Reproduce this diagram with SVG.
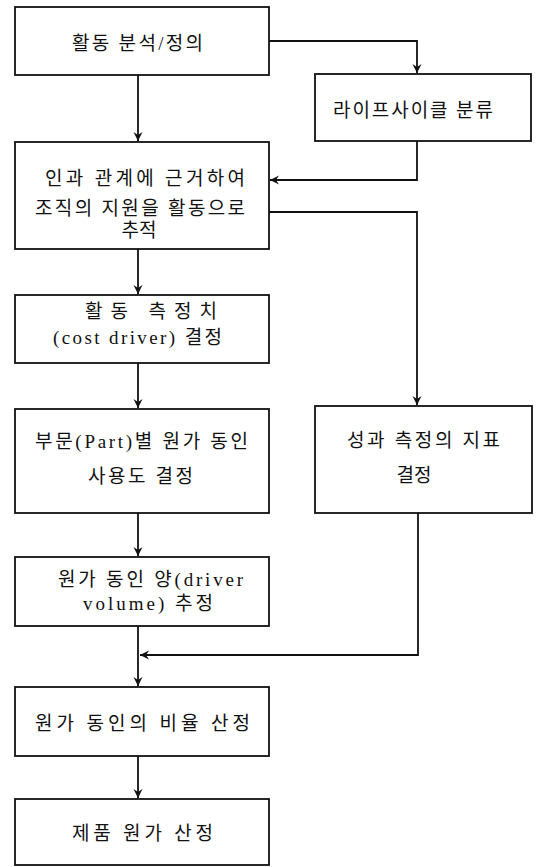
<svg xmlns="http://www.w3.org/2000/svg" width="539" height="867" viewBox="0 0 539 867">
<style>
.box{fill:#fff;stroke:#111;stroke-width:1.8}
.t{font-family:"Liberation Serif","Noto Sans CJK KR",serif;font-size:19px;fill:#111}
.m{text-anchor:middle}
.c{fill:none;stroke:#111;stroke-width:1.8;marker-end:url(#ah)}
</style>
<defs>
<marker id="ah" markerUnits="userSpaceOnUse" markerWidth="12" markerHeight="12" viewBox="-10 -6 12 12" refX="0" refY="0" orient="auto">
<path d="M-9,-4.5 L0,0 L-9,4.5 L-6,0 Z" fill="#111"/>
</marker>
</defs>
<rect width="539" height="867" fill="#fff"/>
<g id="connectors">
<path class="c" d="M138,75 V141"/>
<path class="c" d="M269,41 H417 V73"/>
<path class="c" d="M417,141 V180 H270"/>
<path class="c" d="M269,212 H417 V405"/>
<path class="c" d="M138,249 V294"/>
<path class="c" d="M138,363 V408"/>
<path class="c" d="M138,513 V556"/>
<path class="c" d="M418,513 V655 H140"/>
<path class="c" d="M138,626 V686"/>
<path class="c" d="M138,756 V798"/>
</g>
<g id="n1"><rect class="box" x="15" y="7" width="254" height="68"/>
<text class="t" x="72" y="50" textLength="131" lengthAdjust="spacing">활동 분석/정의</text></g>
<g id="n2"><rect class="box" x="315" y="74" width="216" height="67"/>
<text class="t" x="333" y="117" textLength="160" lengthAdjust="spacing">라이프사이클 분류</text></g>
<g id="n3"><rect class="box" x="15" y="142" width="254" height="107"/>
<text class="t" x="45" y="185" textLength="200" lengthAdjust="spacing">인과 관계에 근거하여</text>
<text class="t" x="35" y="215" textLength="210" lengthAdjust="spacing">조직의 지원을 활동으로</text>
<text class="t m" x="139" y="237">추적</text></g>
<g id="n4"><rect class="box" x="15" y="295" width="254" height="68"/>
<text class="t" x="85" y="318" textLength="132" lengthAdjust="spacing">활동 측정치</text>
<text class="t" x="53" y="344" textLength="169" lengthAdjust="spacing">(cost driver) 결정</text></g>
<g id="n5"><rect class="box" x="15" y="409" width="254" height="104"/>
<text class="t" x="35" y="448" textLength="213" lengthAdjust="spacing">부문(Part)별 원가 동인</text>
<text class="t" x="88" y="483" textLength="105" lengthAdjust="spacing">사용도 결정</text></g>
<g id="n6"><rect class="box" x="315" y="406" width="217" height="107"/>
<text class="t" x="347" y="447" textLength="153" lengthAdjust="spacing">성과 측정의 지표</text>
<text class="t m" x="414" y="482">결정</text></g>
<g id="n7"><rect class="box" x="15" y="557" width="254" height="69"/>
<text class="t" x="58" y="586" textLength="185" lengthAdjust="spacing">원가 동인 양(driver</text>
<text class="t" x="83" y="610" textLength="130" lengthAdjust="spacing">volume) 추정</text></g>
<g id="n8"><rect class="box" x="15" y="687" width="254" height="69"/>
<text class="t" x="35" y="730" textLength="215" lengthAdjust="spacing">원가 동인의 비율 산정</text></g>
<g id="n9"><rect class="box" x="15" y="799" width="254" height="66"/>
<text class="t" x="72" y="840" textLength="141" lengthAdjust="spacing">제품 원가 산정</text></g>
</svg>
